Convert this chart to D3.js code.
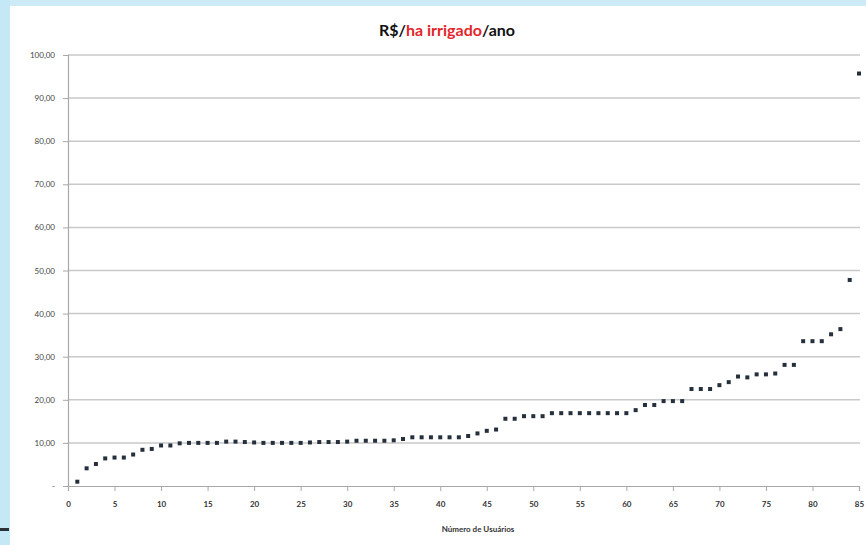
<!DOCTYPE html>
<html>
<head>
<meta charset="utf-8">
<script src="https://cdn.jsdelivr.net/npm/d3@7"></script>
<style>
  html, body { margin: 0; padding: 0; background: #ffffff; }
  svg { display: block; }
</style>
</head>
<body>
<svg id="chart" width="866" height="545"></svg>
<script>
// Custo anual por hectare irrigado, usuários ordenados do menor para o maior
const users = d3.range(1, 86);
const costPerHa = [
  1.0, 4.1, 5.1, 6.4, 6.6, 6.6, 7.3, 8.4, 8.6, 9.4,
  9.4, 9.9, 10.0, 10.0, 10.0, 10.0, 10.3, 10.3, 10.2, 10.1,
  10.0, 10.0, 10.0, 10.0, 10.0, 10.1, 10.2, 10.2, 10.2, 10.3,
  10.5, 10.5, 10.5, 10.5, 10.6, 10.9, 11.3, 11.3, 11.3, 11.3,
  11.3, 11.3, 11.6, 12.2, 12.8, 13.1, 15.6, 15.6, 16.2, 16.2,
  16.2, 16.9, 16.9, 16.9, 16.9, 16.9, 16.9, 16.9, 16.9, 16.9,
  17.6, 18.8, 18.8, 19.7, 19.7, 19.7, 22.5, 22.5, 22.5, 23.4,
  24.1, 25.4, 25.2, 25.9, 25.9, 26.1, 28.1, 28.1, 33.6, 33.6,
  33.6, 35.2, 36.4, 47.8, 95.7
];
const yTicks = [0, 10, 20, 30, 40, 50, 60, 70, 80, 90, 100];
const xTicks = d3.range(0, 86, 5);
const titleParts = [
  { text: "R$/", color: "#111111" },
  { text: "ha irrigado", color: "#e3262a" },
  { text: "/ano", color: "#111111" }
];
const xTitle = "Número de Usuários";

const svg = d3.select("#chart");

// light blue frame on the left and top edges
svg.append("rect").attr("x", 0).attr("y", 0).attr("width", 866).attr("height", 545).attr("fill", "#ffffff");
svg.append("rect").attr("x", 0).attr("y", 0).attr("width", 866).attr("height", 6).attr("fill", "#cdebf7");
svg.append("rect").attr("x", 0).attr("y", 0).attr("width", 10).attr("height", 545).attr("fill", "#c4e8f6");
svg.append("rect").attr("x", 0).attr("y", 528).attr("width", 9).attr("height", 3).attr("fill", "#2a3238");

const x = d3.scaleLinear().domain([0, 85]).range([68, 859]);
const y = d3.scaleLinear().domain([0, 100]).range([486, 55]);

const fmt = v => v === 0 ? "-" : d3.format(",.2f")(v).replace(".", ",");

// horizontal gridlines
svg.append("g")
  .selectAll("line")
  .data(yTicks.filter(d => d > 0))
  .join("line")
  .attr("x1", x(0)).attr("x2", 860)
  .attr("y1", d => y(d)).attr("y2", d => y(d))
  .attr("stroke", "#c9c9c9").attr("stroke-width", 1.5);

// y axis
const yAxis = svg.append("g")
  .attr("transform", `translate(${x(0)},0)`)
  .call(d3.axisLeft(y).tickValues(yTicks).tickFormat(fmt).tickSize(5).tickPadding(8));
yAxis.select(".domain").attr("stroke", "#a8a8a8").attr("stroke-width", 1.2);
yAxis.selectAll(".tick line").attr("stroke", "#a8a8a8");
yAxis.selectAll(".tick text")
  .attr("fill", "#444").attr("font-family", "Lato, 'Open Sans', sans-serif")
  .attr("font-size", 8);

// x axis
const xAxis = svg.append("g")
  .attr("transform", `translate(0,${y(0)})`)
  .call(d3.axisBottom(x).tickValues(xTicks).tickFormat(d3.format("d")).tickSize(5).tickPadding(10));
xAxis.select(".domain").attr("stroke", "#a8a8a8").attr("stroke-width", 1.2);
xAxis.selectAll(".tick line").attr("stroke", "#a8a8a8");
xAxis.selectAll(".tick text")
  .attr("fill", "#333").attr("font-family", "Lato, 'Open Sans', sans-serif")
  .attr("font-size", 8).attr("font-weight", "bold");

// data points
svg.append("g")
  .selectAll("rect")
  .data(users)
  .join("rect")
  .attr("x", d => x(d) - 2)
  .attr("y", (d, i) => y(costPerHa[i]) - 2)
  .attr("width", 4).attr("height", 4)
  .attr("fill", "#26303c");

// title
const title = svg.append("text")
  .attr("x", 447).attr("y", 36)
  .attr("text-anchor", "middle")
  .attr("font-family", "Lato, 'Open Sans', sans-serif")
  .attr("font-weight", "bold")
  .attr("font-size", 16);
title.selectAll("tspan")
  .data(titleParts)
  .join("tspan")
  .attr("fill", d => d.color)
  .text(d => d.text);

// x axis title
svg.append("text")
  .attr("x", 478).attr("y", 532)
  .attr("text-anchor", "middle")
  .attr("font-family", "Lato, 'Open Sans', sans-serif")
  .attr("font-weight", "bold")
  .attr("font-size", 8)
  .attr("fill", "#333")
  .text(xTitle);
</script>
</body>
</html>
